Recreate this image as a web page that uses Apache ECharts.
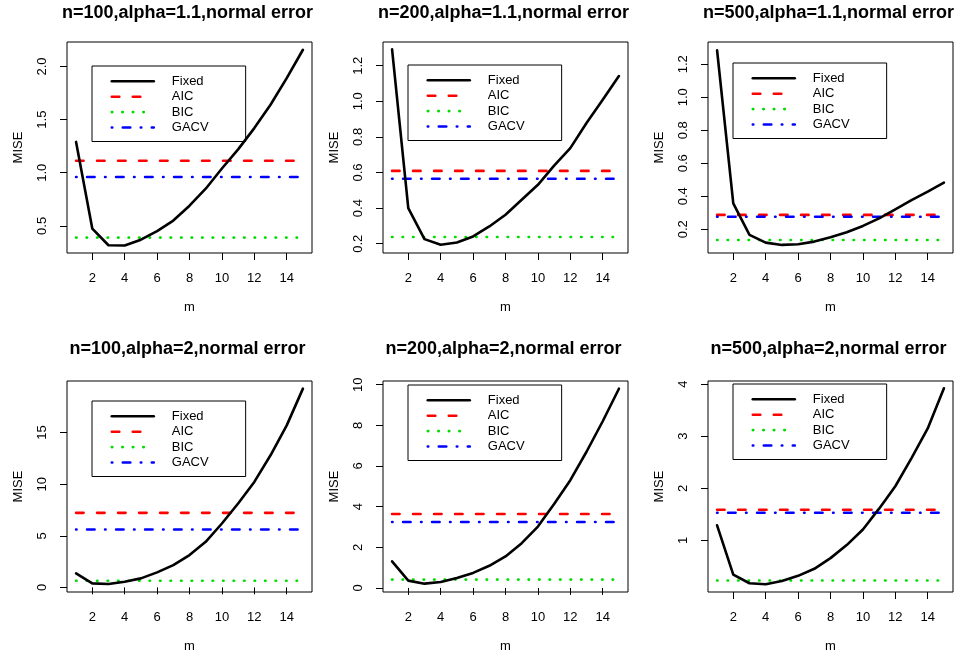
<!DOCTYPE html>
<html><head><meta charset="utf-8">
<script src="https://cdn.jsdelivr.net/npm/echarts@6/dist/echarts.min.js"></script>
<style>html,body{margin:0;padding:0;background:#fff}#c{width:961px;height:662px}</style>
</head><body><div id="c"></div>
<script>
// ---------- data ----------
const mValues = [1, 2, 3, 4, 5, 6, 7, 8, 9, 10, 11, 12, 13, 14, 15];
const panelTitles = [
  'n=100,alpha=1.1,normal error',
  'n=200,alpha=1.1,normal error',
  'n=500,alpha=1.1,normal error',
  'n=100,alpha=2,normal error',
  'n=200,alpha=2,normal error',
  'n=500,alpha=2,normal error'
];
const seriesNames = ['Fixed', 'AIC', 'BIC', 'GACV'];
const fixed_n100_a11 = [1.29, 0.475, 0.318, 0.315, 0.37, 0.45, 0.55, 0.69, 0.85, 1.04, 1.22, 1.42, 1.64, 1.89, 2.157];
const fixed_n200_a11 = [1.292, 0.40, 0.226, 0.194, 0.207, 0.241, 0.297, 0.363, 0.447, 0.531, 0.639, 0.737, 0.878, 1.008, 1.142];
const fixed_n500_a11 = [1.285, 0.357, 0.166, 0.119, 0.105, 0.109, 0.125, 0.152, 0.182, 0.22, 0.266, 0.321, 0.377, 0.428, 0.482];
const fixed_n100_a2 = [1.35, 0.39, 0.32, 0.55, 0.87, 1.45, 2.16, 3.13, 4.41, 6.19, 8.13, 10.22, 12.8, 15.7, 19.26];
const fixed_n200_a2 = [1.31, 0.36, 0.21, 0.29, 0.49, 0.74, 1.09, 1.55, 2.2, 3.02, 4.13, 5.3, 6.7, 8.2, 9.8];
const fixed_n500_a2 = [1.29, 0.345, 0.178, 0.16, 0.22, 0.32, 0.455, 0.66, 0.91, 1.21, 1.61, 2.04, 2.58, 3.15, 3.92];
const aicValues = [1.113, 0.609, 0.287, 7.22, 3.64, 1.59];
const bicValues = [0.39, 0.238, 0.135, 0.64, 0.41, 0.23];
const gacvValues = [0.96, 0.565, 0.276, 5.61, 3.24, 1.53];
const xTickValues = [2, 4, 6, 8, 10, 12, 14];
const yTicks_n100_a11 = [0.5, 1.0, 1.5, 2.0];
const yTicks_n200_a11 = [0.2, 0.4, 0.6, 0.8, 1.0, 1.2];
const yTicks_n500_a11 = [0.2, 0.4, 0.6, 0.8, 1.0, 1.2];
const yTicks_n100_a2 = [0, 5, 10, 15];
const yTicks_n200_a2 = [0, 2, 4, 6, 8, 10];
const yTicks_n500_a2 = [1, 2, 3, 4];
const yLabelDecimals = [1, 1, 1, 0, 0, 0];
const yMin = [0.245, 0.148, 0.056, -0.45, -0.2, 0.01];
const yMax = [2.23, 1.333, 1.335, 20.0, 10.18, 4.06];

const fixedSets = [fixed_n100_a11, fixed_n200_a11, fixed_n500_a11, fixed_n100_a2, fixed_n200_a2, fixed_n500_a2];
const yTickSets = [yTicks_n100_a11, yTicks_n200_a11, yTicks_n500_a11, yTicks_n100_a2, yTicks_n200_a2, yTicks_n500_a2];

// ---------- layout ----------
const FONT = 'Liberation Sans, Arial, Helvetica, sans-serif';
const gLeft = [67, 383, 708, 67, 383, 708];
const gTop = [42, 42, 42, 381, 381, 381];
const gW = 245, gH = 211;
const legLeft = [92, 408, 733, 92, 408, 733];
const legTop = [66, 65, 63, 401, 385, 384];
const titleTop = [4, 4, 4, 340, 340, 340];

const LW = 2.6;
const styles = {
  Fixed: { color: '#000000', width: LW, type: 'solid' },
  AIC: { color: '#FF0000', width: LW, type: [7.5, 13.5] },
  BIC: { color: '#00DD00', width: LW, type: [0.5, 10] },
  GACV: { color: '#0000FF', width: LW, type: [0.5, 10.5, 7.5, 10.5] }
};

const grids = [], xAxes = [], yAxes = [], titles = [], legends = [], series = [];
for (let i = 0; i < 6; i++) {
  grids.push({ left: gLeft[i], top: gTop[i], width: gW, height: gH, show: true,
    borderColor: '#000', borderWidth: 1, backgroundColor: 'transparent', containLabel: false, outerBoundsMode: 'none' });
  xAxes.push({ type: 'value', gridIndex: i, min: 0.44, max: 15.56,
    splitLine: { show: false }, axisLine: { show: false },
    axisTick: { show: true, length: 7, inside: false, lineStyle: { color: '#000', width: 1 }, customValues: xTickValues },
    axisLabel: { customValues: xTickValues, color: '#000', fontSize: 13, fontFamily: FONT, margin: 19 },
    name: 'm', nameLocation: 'middle', nameGap: 48,
    nameTextStyle: { color: '#000', fontSize: 13, fontFamily: FONT } });
  const dec = yLabelDecimals[i];
  yAxes.push({ type: 'value', gridIndex: i, min: yMin[i], max: yMax[i],
    splitLine: { show: false }, axisLine: { show: false },
    axisTick: { show: true, length: 7, inside: false, lineStyle: { color: '#000', width: 1 }, customValues: yTickSets[i] },
    axisLabel: { customValues: yTickSets[i], rotate: 90, color: '#000', fontSize: 13, fontFamily: FONT, margin: 18,
      formatter: v => Number(v).toFixed(dec) },
    name: 'MISE', nameLocation: 'middle', nameGap: 42, nameRotate: 90,
    nameTextStyle: { color: '#000', fontSize: 13, fontFamily: FONT } });
  titles.push({ text: panelTitles[i], left: gLeft[i] + gW / 2 - 2, top: titleTop[i], textAlign: 'center', padding: 0,
    textStyle: { fontSize: 18, fontWeight: 'bold', fontFamily: FONT, color: '#000' } });
  legends.push({ left: legLeft[i], top: legTop[i], orient: 'vertical', data: seriesNames,
    itemWidth: 42, itemHeight: 13, itemGap: 2.4, padding: [8.8, 37, 7.5, 18.5],
    borderColor: '#000', borderWidth: 1, borderRadius: 0, selectedMode: false,
    itemStyle: { opacity: 0 },
    lineStyle: { width: LW },
    textStyle: { fontSize: 13, color: '#000', fontFamily: FONT, padding: [0, 0, 0, 13], lineHeight: 13 } });
  const vals = { Fixed: fixedSets[i], AIC: mValues.map(() => aicValues[i]), BIC: mValues.map(() => bicValues[i]), GACV: mValues.map(() => gacvValues[i]) };
  ['AIC', 'BIC', 'GACV', 'Fixed'].forEach(nm => {
    const s = styles[nm];
    series.push({ type: 'line', name: nm, xAxisIndex: i, yAxisIndex: i,
      data: mValues.map((m, k) => [m, vals[nm][k]]),
      symbol: 'none', showSymbol: false, silent: true, animation: false,
      itemStyle: { color: s.color },
      lineStyle: { color: s.color, width: s.width, type: s.type, cap: 'round', join: 'round' } });
  });
}

const chart = echarts.init(document.getElementById('c'), null, { renderer: 'canvas' });
chart.setOption({
  backgroundColor: '#fff',
  animation: false,
  title: titles, legend: legends, grid: grids, xAxis: xAxes, yAxis: yAxes, series: series,
  tooltip: { show: false }
});
</script></body></html>
